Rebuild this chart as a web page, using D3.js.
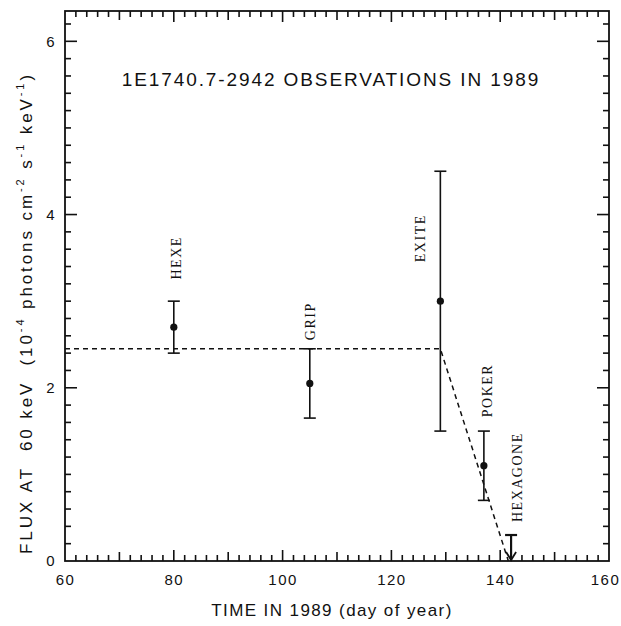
<!DOCTYPE html>
<html>
<head>
<meta charset="UTF-8">
<title>1E1740.7-2942 observations in 1989</title>
<script src="https://cdn.jsdelivr.net/npm/d3@7"></script>
<style>
  body { margin: 0; background: #fff; }
  svg { display: block; }
  .tick text { font-family: "Liberation Sans", Arial, sans-serif; font-size: 15px; letter-spacing: 1.5px; fill: #111; }
</style>
</head>
<body>
<div id="chart"></div>
<script>
// observations (day of year, flux in 1e-4 photons cm^-2 s^-1 keV^-1)
var instruments = ["HEXE", "GRIP", "EXITE", "POKER"];
var days        = [80, 105, 129, 137];
var flux        = [2.7, 2.05, 3.0, 1.1];
var fluxLow     = [2.4, 1.65, 1.5, 0.7];
var fluxHigh    = [3.0, 2.45, 4.5, 1.5];

// HEXAGONE upper limit
var limitDay = 142;
var limitFlux = 0.3;

// dashed trend
var trendDays = [60, 129, 141.5];
var trendFlux = [2.45, 2.45, 0];

var xTicks = [60, 80, 100, 120, 140, 160];
var yTicks = [0, 2, 4, 6];

var W = 621, H = 626;
var mLeft = 65, mRight = 609, mTop = 11, mBottom = 561;

var svg = d3.select("#chart").append("svg").attr("width", W).attr("height", H);

var x = d3.scaleLinear().domain([60, 160]).range([mLeft, mRight]);
var y = d3.scaleLinear().domain([0, 6.35]).range([mBottom, mTop]);

// tick marks, all pointing inward
var xMinor = d3.range(62, 160, 2);
var yMinor = d3.range(1, 32).map(function (i) { return i * 0.2; });

function xLen(d) { return d % 20 === 0 ? 11 : (d % 10 === 0 ? 9 : 6); }
function yLen(d) { return yTicks.indexOf(Math.round(d * 10) / 10) >= 0 ? 12 : 6; }

var tk = svg.append("g").attr("stroke", "#111").attr("stroke-width", 1.6);
tk.selectAll("line.xb").data(xMinor).enter().append("line").attr("class", "xb")
    .attr("x1", function (d) { return x(d); }).attr("x2", function (d) { return x(d); })
    .attr("y1", mBottom).attr("y2", function (d) { return mBottom - xLen(d); });
tk.selectAll("line.xt").data(xMinor).enter().append("line").attr("class", "xt")
    .attr("x1", function (d) { return x(d); }).attr("x2", function (d) { return x(d); })
    .attr("y1", mTop).attr("y2", function (d) { return mTop + xLen(d); });
tk.selectAll("line.yl").data(yMinor).enter().append("line").attr("class", "yl")
    .attr("y1", function (d) { return y(d); }).attr("y2", function (d) { return y(d); })
    .attr("x1", mLeft).attr("x2", function (d) { return mLeft + yLen(d); });
tk.selectAll("line.yr").data(yMinor).enter().append("line").attr("class", "yr")
    .attr("y1", function (d) { return y(d); }).attr("y2", function (d) { return y(d); })
    .attr("x1", mRight).attr("x2", function (d) { return mRight - yLen(d); });

function clean(g) { g.select(".domain").remove(); g.selectAll(".tick line").remove(); }

// tick labels through d3 axes
svg.append("g").attr("transform", "translate(0," + mBottom + ")")
    .call(d3.axisBottom(x).tickValues(xTicks).tickSize(0).tickPadding(13).tickFormat(d3.format("d")))
    .call(clean);
svg.append("g").attr("transform", "translate(" + mLeft + ",0)")
    .call(d3.axisLeft(y).tickValues(yTicks).tickSize(0).tickPadding(9).tickFormat(d3.format("d")))
    .call(clean);

// keep the last x label inside the window
svg.selectAll(".tick text").filter(function (d) { return d === 160; }).attr("dx", -4);

// frame
svg.append("rect")
    .attr("x", mLeft).attr("y", mTop)
    .attr("width", mRight - mLeft).attr("height", mBottom - mTop)
    .attr("fill", "none").attr("stroke", "#111").attr("stroke-width", 1.8);

// dashed trend line
var trend = trendDays.map(function (d, i) { return [d, trendFlux[i]]; });
svg.append("path")
    .datum(trend)
    .attr("d", d3.line().x(function (d) { return x(d[0]); }).y(function (d) { return y(d[1]); }))
    .attr("fill", "none").attr("stroke", "#111").attr("stroke-width", 1.5)
    .attr("stroke-dasharray", "5,4");

// error bars
var obs = instruments.map(function (n, i) {
    return { name: n, day: days[i], f: flux[i], lo: fluxLow[i], hi: fluxHigh[i] };
});
var cap = 6;
var eb = svg.append("g").attr("stroke", "#111").attr("stroke-width", 1.6);
obs.forEach(function (d) {
    eb.append("line").attr("x1", x(d.day)).attr("x2", x(d.day)).attr("y1", y(d.lo)).attr("y2", y(d.hi));
    eb.append("line").attr("x1", x(d.day) - cap).attr("x2", x(d.day) + cap).attr("y1", y(d.lo)).attr("y2", y(d.lo));
    eb.append("line").attr("x1", x(d.day) - cap).attr("x2", x(d.day) + cap).attr("y1", y(d.hi)).attr("y2", y(d.hi));
});
svg.selectAll("circle.pt").data(obs).enter().append("circle")
    .attr("class", "pt")
    .attr("cx", function (d) { return x(d.day); })
    .attr("cy", function (d) { return y(d.f); })
    .attr("r", 3.6).attr("fill", "#111");

// upper limit with arrow
var lx = x(limitDay);
eb.append("line").attr("x1", lx).attr("x2", lx).attr("y1", y(limitFlux)).attr("y2", y(0) - 1).attr("stroke-width", 2.2);
eb.append("line").attr("x1", lx - cap).attr("x2", lx + cap).attr("y1", y(limitFlux)).attr("y2", y(limitFlux)).attr("stroke-width", 2.2);
eb.append("path")
    .attr("d", "M" + (lx - 5) + "," + (y(0) - 9) + "L" + lx + "," + (y(0) - 1) + "L" + (lx + 5) + "," + (y(0) - 9))
    .attr("fill", "none").attr("stroke-width", 1.8);

// instrument labels (rotated, serif)
var labelInfo = [
    { name: "HEXE", day: 80.4, f: 3.25 },
    { name: "GRIP", day: 105, f: 2.55 },
    { name: "EXITE", day: 125.3, f: 3.45 },
    { name: "POKER", day: 137.5, f: 1.66 },
    { name: "HEXAGONE", day: 143.1, f: 0.45 }
];
svg.selectAll("text.inst").data(labelInfo).enter().append("text")
    .attr("class", "inst")
    .attr("transform", function (d) { return "translate(" + (x(d.day) + 5) + "," + y(d.f) + ") rotate(-90)"; })
    .attr("font-family", "'Liberation Serif', 'Times New Roman', serif")
    .attr("font-size", 14).attr("letter-spacing", 1.5)
    .attr("fill", "#111")
    .text(function (d) { return d.name; });

// title
svg.append("text")
    .attr("x", 331).attr("y", 86)
    .attr("text-anchor", "middle")
    .attr("font-family", "'Liberation Sans', Arial, sans-serif")
    .attr("font-size", 19).attr("letter-spacing", 1.9).attr("fill", "#111")
    .text("1E1740.7-2942 OBSERVATIONS IN 1989");

// x axis title
svg.append("text")
    .attr("x", 332).attr("y", 616)
    .attr("text-anchor", "middle")
    .attr("font-family", "'Liberation Sans', Arial, sans-serif")
    .attr("font-size", 17).attr("letter-spacing", 1.4).attr("fill", "#111")
    .text("TIME IN 1989 (day of year)");

// y axis title with superscripts
var yt = svg.append("text")
    .attr("transform", "translate(32,313) rotate(-90)")
    .attr("text-anchor", "middle")
    .attr("font-family", "'Liberation Sans', Arial, sans-serif")
    .attr("font-size", 17).attr("letter-spacing", 2.9).attr("fill", "#111")
    .style("white-space", "pre");
var parts = [
    ["FLUX AT  60 keV  (10", false], ["-4", true], [" photons cm", false], ["-2", true],
    [" s", false], ["-1", true], [" keV", false], ["-1", true], [")", false]
];
parts.forEach(function (p, i) {
    var t = yt.append("tspan").text(p[0]);
    if (p[1]) t.attr("font-size", 11).attr("dy", -8);
    else if (i > 0 && parts[i - 1][1]) t.attr("dy", 8);
});
</script>
</body>
</html>
